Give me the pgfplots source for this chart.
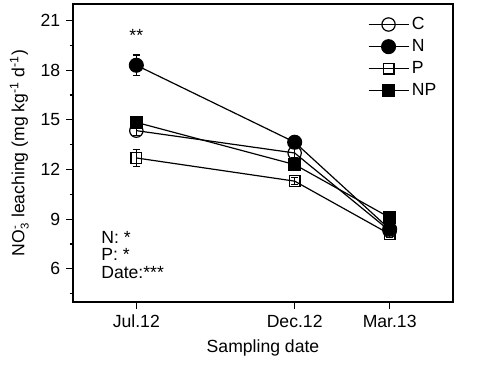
\documentclass[border=0pt]{standalone}
\usepackage{pgfplots}
\pgfplotsset{compat=1.18}
\usepackage{fontspec}
\setmainfont{Liberation Sans}
\begin{document}
\fontsize{13.2}{15.5}\selectfont
\begin{tikzpicture}
\begin{axis}[
  at={(0,0)}, anchor=south west,
  scale only axis, width=285pt, height=223.5pt,
  xmin=-2, xmax=10, ymin=4, ymax=22,
  axis lines=box, clip=false,
  xtick={0,5,8}, xticklabels={Jul.12,Dec.12,Mar.13},
  ytick={6,9,12,15,18,21},
  minor ytick={4.5,7.5,10.5,13.5,16.5,19.5},
  tick align=outside, axis line style={black, line width=1.1pt},
  major tick length=5pt, minor tick length=2.5pt,
  every tick/.style={black, line width=0.9pt},
  xtick pos=bottom, ytick pos=left,
  /pgf/number format/assume math mode=true,
  tick label style={font=\fontsize{13.2}{15.5}\selectfont},
  label style={font=\fontsize{13.2}{15.5}\selectfont},
  xlabel={Sampling date},
  ylabel={NO$_{\mbox{\fontsize{8.5}{9}\selectfont 3}}^{\mbox{\fontsize{8.5}{9}\selectfont -}}$ leaching (mg kg\textsuperscript{-1} d\textsuperscript{-1})},
  legend style={at={(0.765,0.975)}, anchor=north west, draw=none, fill=none,
    font=\fontsize{13.2}{15.5}\selectfont, row sep=1.5pt},
  legend cell align=left,
  legend image code/.code={\draw[mark repeat=2,mark phase=2] plot coordinates {(0pt,0pt) (15pt,0pt) (30pt,0pt)};},
  error bars/error bar style={black, line width=0.9pt},
  error bars/error mark options={black, rotate=90, mark size=2.8pt, line width=0.9pt},
]
\addplot[black, line width=0.9pt, mark=o, mark options={fill=none, mark size=5pt, solid}, error bars/.cd, y dir=both, y explicit]
  coordinates {(0,14.35) +- (0,0.3) (5,13.0) +- (0,0.25) (8,8.3) +- (0,0.2)};
\addlegendentry{C}
\addplot[black, line width=0.9pt, mark=*, mark options={fill=black, mark size=5.2pt, solid}, error bars/.cd, y dir=both, y explicit]
  coordinates {(0,18.3) +- (0,0.62) (5,13.65) +- (0,0.2) (8,8.4) +- (0,0.25)};
\addlegendentry{N}
\addplot[black, line width=0.9pt, mark=square, mark options={fill=none, mark size=4pt, solid}, error bars/.cd, y dir=both, y explicit]
  coordinates {(0,12.7) +- (0,0.5) (5,11.3) +- (0,0.2) (8,8.1) +- (0,0.2)};
\addlegendentry{P}
\addplot[black, line width=0.9pt, mark=square*, mark options={fill=black, mark size=4.4pt, solid}, error bars/.cd, y dir=both, y explicit]
  coordinates {(0,14.85) +- (0,0.2) (5,12.3) +- (0,0.2) (8,9.1) +- (0,0.2)};
\addlegendentry{NP}
\node at (axis cs:0,20.1) {**};
\node[anchor=west] at (axis cs:-1.3,7.9) {N: *};
\node[anchor=west] at (axis cs:-1.3,6.85) {P: *};
\node[anchor=west] at (axis cs:-1.3,5.8) {Date:***};
\end{axis}
\draw[black, line width=1.1pt] (0pt,0pt) -- (0pt,223.5pt) -- (285pt,223.5pt) -- (285pt,0pt) -- cycle;
\path[use as bounding box] (-54.75pt,-48pt) rectangle (320.25pt,226.5pt);
\end{tikzpicture}
\end{document}
